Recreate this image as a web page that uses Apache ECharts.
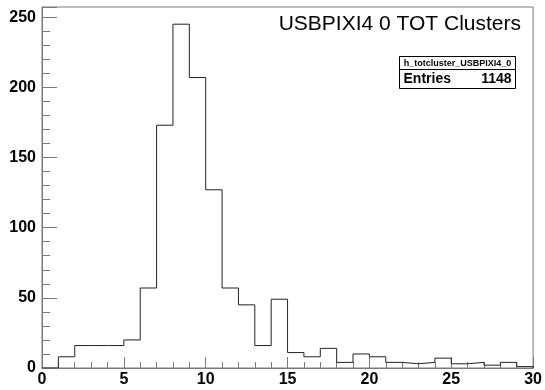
<!DOCTYPE html>
<html>
<head>
<meta charset="utf-8">
<script src="https://cdn.jsdelivr.net/npm/echarts@6/dist/echarts.min.js"></script>
<style>
  html, body { margin: 0; padding: 0; background: #fff; }
  #chart { width: 545px; height: 390px; }
</style>
</head>
<body>
<div id="chart"></div>
<script>
// TOT cluster histogram, one-unit bins from 0 to 30
const binLowEdges = [0, 1, 2, 3, 4, 5, 6, 7, 8, 9, 10, 11, 12, 13, 14, 15, 16, 17, 18, 19, 20, 21, 22, 23, 24, 25, 26, 27, 28, 29];
const binCounts = [0, 8, 16, 16, 16, 20, 57, 173, 245, 207, 127, 57, 45, 16, 49, 11, 8, 14, 4, 10, 8, 4, 3, 4, 7, 3, 4, 2, 4, 1];
const xRange = [0, 30];
const histTitle = 'USBPIXI4 0 TOT Clusters';
const statsName = 'h_totcluster_USBPIXI4_0';
const statsLabel = 'Entries';
const statsEntries = '1148';

// step outline: each bin's level runs from its low edge to the next edge
const outline = binLowEdges.map((x, i) => [x, binCounts[i]]);
outline.push([xRange[1], binCounts[binCounts.length - 1]]);
outline.push([xRange[1], 0]);

const yMax = Math.max(...binCounts) * 1.05;
const font = '"Liberation Sans", Arial, Helvetica, sans-serif';
const axisGray = '#7a7a7a';

const chart = echarts.init(document.getElementById('chart'), null, { renderer: 'canvas' });
chart.setOption({
  animation: false,
  backgroundColor: '#ffffff',
  title: {
    text: histTitle,
    right: 19,
    top: 9,
    textStyle: { fontFamily: font, fontSize: 21, fontWeight: 'normal', color: '#000' }
  },
  grid: {
    left: 42, right: 5, top: 7, bottom: 22,
    show: true, borderColor: axisGray, borderWidth: 1, backgroundColor: 'transparent'
  },
  xAxis: {
    type: 'value',
    min: xRange[0], max: xRange[1], interval: 5,
    axisLine: { show: true, lineStyle: { color: axisGray } },
    axisTick: { show: true, inside: true, length: 11, lineStyle: { color: axisGray } },
    minorTick: { show: true, splitNumber: 5, length: 6, lineStyle: { color: axisGray } },
    splitLine: { show: false },
    axisLabel: { fontFamily: font, fontSize: 16, fontWeight: 'bold', color: '#000', margin: 4 }
  },
  yAxis: {
    type: 'value',
    min: 0, max: yMax, interval: 50,
    axisLine: { show: true, lineStyle: { color: axisGray } },
    axisTick: { show: true, inside: true, length: 15, lineStyle: { color: axisGray } },
    minorTick: { show: true, splitNumber: 5, length: 8, lineStyle: { color: axisGray } },
    splitLine: { show: false },
    axisLabel: { fontFamily: font, fontSize: 16, fontWeight: 'bold', color: '#000', margin: 6, showMaxLabel: false }
  },
  series: [{
    type: 'line',
    step: 'end',
    data: outline,
    symbol: 'none',
    lineStyle: { color: '#222', width: 1 },
    clip: true
  }],
  graphic: [{
    type: 'group',
    left: 397, top: 56,
    children: [
      { type: 'rect', shape: { x: 0, y: 0, width: 116, height: 32 },
        style: { fill: '#fff', stroke: '#000', lineWidth: 1 } },
      { type: 'line', shape: { x1: 0, y1: 13, x2: 116, y2: 13 },
        style: { stroke: '#000', lineWidth: 1 } },
      { type: 'text', x: 58, y: 7,
        style: { text: statsName, fontFamily: font, fontSize: 9, fontWeight: 'bold', fill: '#000', align: 'center', verticalAlign: 'middle' } },
      { type: 'text', x: 4, y: 23,
        style: { text: statsLabel, fontFamily: font, fontSize: 14, fontWeight: 'bold', fill: '#000', align: 'left', verticalAlign: 'middle' } },
      { type: 'text', x: 112, y: 23,
        style: { text: statsEntries, fontFamily: font, fontSize: 14, fontWeight: 'bold', fill: '#000', align: 'right', verticalAlign: 'middle' } }
    ]
  }]
});
</script>
</body>
</html>
